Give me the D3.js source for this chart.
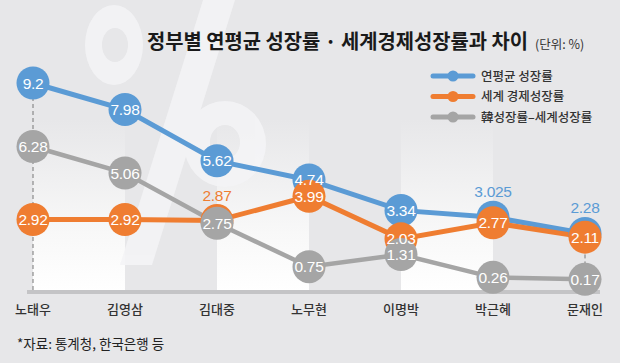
<!DOCTYPE html>
<html>
<head>
<meta charset="utf-8">
<script src="https://cdn.jsdelivr.net/npm/d3@7"></script>
<style>
  body { margin: 0; background: #e8e8ea; }
  svg { display: block; }
  .kr { font-family: "Noto Sans CJK KR", sans-serif; }
  .num { font-family: "Liberation Sans", Arial, sans-serif; }
</style>
</head>
<body>
<script>
// 정부별 연평균 성장률 데이터
const govs = ['노태우', '김영삼', '김대중', '노무현', '이명박', '박근혜', '문재인'];
const korGrowth = [9.2, 7.98, 5.62, 4.74, 3.34, 3.025, 2.28];
const worldGrowth = [2.92, 2.92, 2.87, 3.99, 2.03, 2.77, 2.11];
const gapGrowth = [6.28, 5.06, 2.75, 0.75, 1.31, 0.26, 0.17];
const seriesNames = ['연평균 성장률', '세계 경제성장률', '韓성장률–세계성장률'];
// 원 밖에 숫자를 쓰는 점 (가려지는 원)
const outsideLabels = [[5, 6], [2], []];

const width = 620, height = 363;
const colors = ['#5b9bd5', '#ef7d31', '#a5a5a5'];

const svg = d3.select('body').append('svg')
    .attr('width', width)
    .attr('height', height);

const x = d3.scalePoint().domain(govs).range([33, 585]);
const y = d3.scaleLinear().domain([0, 9.2]).range([283, 83]);
const axisY = 292;

// 배경
svg.append('rect').attr('width', width).attr('height', height).attr('fill', '#e7e7e9');

const defs = svg.append('defs');
const grad = defs.append('linearGradient')
    .attr('id', 'band').attr('x1', 0).attr('y1', 0).attr('x2', 0).attr('y2', 1);
grad.append('stop').attr('offset', '0%').attr('stop-color', '#e7e7e9');
grad.append('stop').attr('offset', '65%').attr('stop-color', '#f8f8f8');
grad.append('stop').attr('offset', '100%').attr('stop-color', '#ffffff');

// 흰색 세로 띠
[0, 2, 4].forEach(i => {
    svg.append('rect')
        .attr('x', x(govs[i]))
        .attr('y', 120)
        .attr('width', x(govs[i + 1]) - x(govs[i]))
        .attr('height', axisY - 120)
        .attr('fill', 'url(#band)');
});

// 큰 % 워터마크
const wm = svg.append('g').attr('fill', '#f4f4f6').attr('opacity', 0.9);
wm.append('path')
    .attr('fill-rule', 'evenodd')
    .attr('d', 'M85,45a29,40 0 1,0 58,0a29,40 0 1,0 -58,0Z M102,45a13,17 0 1,0 26,0a13,17 0 1,0 -26,0Z');
wm.append('path')
    .attr('fill-rule', 'evenodd')
    .attr('d', 'M184,144a41,43 0 1,0 82,0a41,43 0 1,0 -82,0Z M210,142a15,17 0 1,0 30,0a15,17 0 1,0 -30,0Z');
wm.append('path').attr('d', 'M203,0L235,0L152,265L120,265Z');

// 양끝 점선
[0, govs.length - 1].forEach(i => {
    svg.append('line')
        .attr('x1', x(govs[i])).attr('x2', x(govs[i]))
        .attr('y1', y(korGrowth[i])).attr('y2', axisY)
        .attr('stroke', '#777').attr('stroke-width', 1)
        .attr('stroke-dasharray', '4,3');
});

// 축선
svg.append('line')
    .attr('x1', 27).attr('x2', 600)
    .attr('y1', axisY).attr('y2', axisY)
    .attr('stroke', '#c4c4c6').attr('stroke-width', 4);

svg.append('g').selectAll('text')
    .data(govs).join('text')
    .attr('class', 'kr')
    .attr('x', d => x(d))
    .attr('y', 314)
    .attr('text-anchor', 'middle')
    .attr('font-size', 13)
    .attr('font-weight', 500)
    .attr('fill', '#333')
    .text(d => d);

// 제목
svg.append('text').attr('class', 'kr')
    .attr('x', 147).attr('y', 49)
    .attr('font-size', 20).attr('font-weight', 'bold').attr('fill', '#1a1a1a')
    .attr('textLength', 381).attr('lengthAdjust', 'spacingAndGlyphs')
    .text('정부별 연평균 성장률 · 세계경제성장률과 차이');
svg.append('text').attr('class', 'kr')
    .attr('x', 535).attr('y', 49)
    .attr('font-size', 12.5).attr('fill', '#333')
    .text('(단위: %)');

// 범례
const legend = svg.append('g').selectAll('g')
    .data(seriesNames).join('g')
    .attr('transform', (d, i) => `translate(433, ${76 + i * 20.5})`);
legend.append('line')
    .attr('x1', 0).attr('x2', 40)
    .attr('stroke', (d, i) => colors[i])
    .attr('stroke-width', 5).attr('stroke-linecap', 'round');
legend.append('circle')
    .attr('cx', 20).attr('r', 5.5)
    .attr('fill', (d, i) => colors[i]);
legend.append('text').attr('class', 'kr')
    .attr('x', 48).attr('y', 4.5)
    .attr('font-size', 12.5).attr('font-weight', 500).attr('fill', '#333')
    .text(d => d);

// 선 그래프
const series = [korGrowth, worldGrowth, gapGrowth];
const line = d3.line().x((d, i) => x(govs[i])).y(d => y(d));

series.forEach((vals, s) => {
    svg.append('path')
        .attr('d', line(vals))
        .attr('fill', 'none')
        .attr('stroke', colors[s])
        .attr('stroke-width', s === 2 ? 4.5 : 5);
});

series.forEach((vals, s) => {
    svg.append('g').selectAll('circle')
        .data(vals).join('circle')
        .attr('cx', (d, i) => x(govs[i]))
        .attr('cy', d => y(d))
        .attr('r', 16.5)
        .attr('fill', colors[s]);
});

series.forEach((vals, s) => {
    svg.append('g').selectAll('text')
        .data(vals).join('text')
        .attr('class', 'num')
        .attr('x', (d, i) => x(govs[i]))
        .attr('y', (d, i) => outsideLabels[s].includes(i) ? y(d) - 20 : y(d) + 5.5)
        .attr('text-anchor', 'middle')
        .attr('font-size', 15.5)
        .attr('letter-spacing', -0.3)
        .attr('fill', (d, i) => outsideLabels[s].includes(i) ? colors[s] : '#fff')
        .text(d => d);
});

// 출처
svg.append('text').attr('class', 'kr')
    .attr('x', 17).attr('y', 349)
    .attr('font-size', 13.5).attr('fill', '#222')
    .text('*자료: 통계청, 한국은행 등');
</script>
</body>
</html>
